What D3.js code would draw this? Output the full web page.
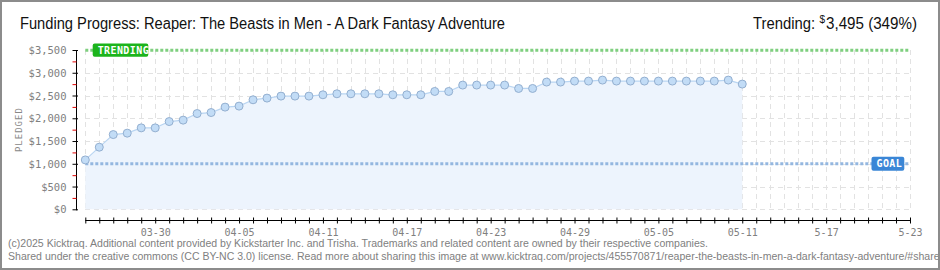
<!DOCTYPE html>
<html>
<head>
<meta charset="utf-8">
<script src="https://cdn.jsdelivr.net/npm/d3@7"></script>
<style>
  html, body { margin: 0; padding: 0; background: #fff; }
  svg { display: block; }
</style>
</head>
<body>
<svg id="chart" width="940" height="270"></svg>
<script>
// ---- data ----
const titleText = "Funding Progress: Reaper: The Beasts in Men - A Dark Fantasy Adventure";
const firstDay = "2025-03-25";
const lastDay = "2025-05-23";
// cumulative pledged (USD), one value per day from 03-25
const pledged = [
  1085, 1365, 1642, 1673, 1789, 1789, 1928, 1959, 2104, 2126,
  2245, 2267, 2406, 2443, 2487, 2487, 2487, 2516, 2538, 2538,
  2538, 2538, 2516, 2516, 2516, 2589, 2589, 2729, 2729, 2729,
  2729, 2655, 2655, 2795, 2795, 2817, 2817, 2839, 2817, 2817,
  2817, 2817, 2817, 2817, 2817, 2817, 2839, 2751
];
const goal = 1000;
const trending = 3495;
const trendingPct = 349;
const yTicks = [0, 500, 1000, 1500, 2000, 2500, 3000, 3500];
const xTickDates = ["2025-03-30", "2025-04-05", "2025-04-11", "2025-04-17", "2025-04-23",
                    "2025-04-29", "2025-05-05", "2025-05-11", "2025-05-17", "2025-05-23"];
const xTickLabels = ["03-30", "04-05", "04-11", "04-17", "04-23", "04-29", "05-05", "05-11", "5-17", "5-23"];
const footerLines = [
  "(c)2025 Kicktraq. Additional content provided by Kickstarter Inc. and Trisha. Trademarks and related content are owned by their respective companies.",
  "Shared under the creative commons (CC BY-NC 3.0) license. Read more about sharing this image at www.kicktraq.com/projects/455570871/reaper-the-beasts-in-men-a-dark-fantasy-adventure/#share"
];

// ---- setup ----
const parse = d3.utcParse("%Y-%m-%d");
const svg = d3.select("#chart");
const d0 = parse(firstDay), d1 = parse(lastDay);
const days = d3.utcDay.range(d0, d3.utcDay.offset(d1, 1));
const series = pledged.map((v, i) => ({ date: days[i], value: v }));

const x = d3.scaleUtc().domain([d0, d1]).range([85.3, 910]);
const y = d3.scaleLinear().domain([0, 3500]).range([209.3, 50]);

const labelFont = "'DejaVu Sans Mono', monospace";
const titleFont = "'Liberation Sans Narrow', 'Liberation Sans', sans-serif";

// frame
svg.append("rect").attr("x", 1).attr("y", 1).attr("width", 938).attr("height", 268)
  .attr("fill", "#fff").attr("stroke", "#8c8c8c").attr("stroke-width", 2);

// ---- grid ----
const grid = svg.append("g").attr("stroke", "#e2e2e2").attr("stroke-width", 1)
  .attr("stroke-dasharray", "5,4").attr("shape-rendering", "crispEdges");
grid.selectAll("line.v").data(days).join("line")
  .attr("x1", d => Math.round(x(d)) + 0.5).attr("x2", d => Math.round(x(d)) + 0.5)
  .attr("y1", y(3500)).attr("y2", y(0));
grid.selectAll("line.h").data(yTicks.slice(0, -1)).join("line")
  .attr("x1", x(d0)).attr("x2", x(d1))
  .attr("y1", d => Math.round(y(d)) + 0.5).attr("y2", d => Math.round(y(d)) + 0.5);

// ---- area + line ----
svg.append("path").datum(series)
  .attr("fill", "#edf4fd")
  .attr("d", d3.area().x(d => x(d.date)).y0(y(0)).y1(d => y(d.value)));
svg.append("path").datum(series)
  .attr("fill", "none").attr("stroke", "#b9d5f2").attr("stroke-width", 1.2)
  .attr("d", d3.line().x(d => x(d.date)).y(d => y(d.value)));

// ---- goal & trending lines ----
svg.append("line").attr("x1", x(d0)).attr("x2", x(d1))
  .attr("y1", y(goal)).attr("y2", y(goal))
  .attr("stroke", "#94b7e0").attr("stroke-width", 3).attr("stroke-dasharray", "3,2");
svg.append("line").attr("x1", x(d0)).attr("x2", x(d1))
  .attr("y1", y(trending)).attr("y2", y(trending))
  .attr("stroke", "#7fcf7f").attr("stroke-width", 3).attr("stroke-dasharray", "3,2");

// ---- points ----
svg.append("g").selectAll("circle").data(series).join("circle")
  .attr("cx", d => x(d.date)).attr("cy", d => y(d.value)).attr("r", 4)
  .attr("fill", "#c2dcf6").attr("stroke", "#93afd0").attr("stroke-width", 1);

// ---- y axis ----
const yAxis = d3.axisLeft(y).tickValues(yTicks).tickFormat(d3.format("$,")).tickSize(5).tickPadding(5);
const gy = svg.append("g").attr("transform", "translate(76.5,0)").call(yAxis);
gy.select(".domain").attr("d", `M0,${y(3500)}V${y(0) + 1}`).attr("stroke", "#000");
gy.selectAll(".tick line").attr("stroke", "#000").attr("x2", 1.5).attr("x1", -4);
gy.selectAll(".tick text").attr("font-family", labelFont).attr("font-size", 10.5)
  .attr("fill", "#808080").attr("dy", "0.35em");
// red half-step ticks
const yMinor = d3.axisLeft(y).tickValues(yTicks.slice(0, -1).map(v => v + 250)).tickFormat("").tickSize(4);
const gym = svg.append("g").attr("transform", "translate(76.5,0)").call(yMinor);
gym.select(".domain").remove();
gym.selectAll(".tick line").attr("stroke", "#e00000");

svg.append("text").attr("transform", `translate(22,${(y(0) + y(3500)) / 2}) rotate(-90)`)
  .attr("text-anchor", "middle").attr("font-family", labelFont).attr("font-size", 9)
  .attr("letter-spacing", 1).attr("fill", "#888").text("PLEDGED");

// ---- x axis ----
const xAxis = d3.axisBottom(x).ticks(d3.utcDay.every(1)).tickFormat("").tickSizeInner(3).tickSizeOuter(0);
const gx = svg.append("g").attr("transform", "translate(0,220.5)").call(xAxis);
gx.select(".domain").attr("stroke", "#000").attr("d", `M${x(d0)},0H${x(d1)}`);
gx.selectAll(".tick line").attr("stroke", "#000").attr("y1", -3).attr("y2", 3);
const xLab = d3.axisBottom(x).tickValues(xTickDates.map(parse))
  .tickFormat((d, i) => xTickLabels[i]).tickSize(0).tickPadding(8);
const gxl = svg.append("g").attr("transform", "translate(0,220.5)").call(xLab);
gxl.select(".domain").remove();
gxl.selectAll(".tick text").attr("font-family", labelFont).attr("font-size", 10)
  .attr("fill", "#808080");

// ---- badges ----
function badge(cx0, cy0, w, h, fill, label) {
  svg.append("rect").attr("x", cx0).attr("y", cy0).attr("width", w).attr("height", h)
    .attr("rx", 2).attr("fill", fill);
  svg.append("text").attr("x", cx0 + 5).attr("y", cy0 + h / 2).attr("dy", "0.36em")
    .attr("font-family", labelFont).attr("font-size", 10).attr("font-weight", "bold")
    .attr("fill", "#fff").attr("letter-spacing", 0.4).text(label);
}
badge(92.7, 43.4, 55.6, 13.4, "#1cb41c", "TRENDING");
badge(871.5, 156.8, 32.8, 14, "#3a86d6", "GOAL");

// ---- title ----
svg.append("text").attr("x", 20).attr("y", 29).attr("font-family", titleFont)
  .attr("font-size", 16).attr("fill", "#111").attr("textLength", 485)
  .attr("lengthAdjust", "spacingAndGlyphs").text(titleText);

// trending summary, right-aligned: "Trending:  $3,495 (349%)"
svg.append("text").attr("x", 826).attr("y", 29)
  .attr("font-family", titleFont).attr("font-size", 16).attr("fill", "#111")
  .attr("textLength", 91).attr("lengthAdjust", "spacingAndGlyphs")
  .text(d3.format(",")(trending) + " (" + trendingPct + "%)");
svg.append("text").attr("x", 825).attr("y", 23).attr("text-anchor", "end")
  .attr("font-family", titleFont).attr("font-size", 10).attr("fill", "#111").text("$");
svg.append("text").attr("x", 753).attr("y", 29)
  .attr("font-family", titleFont).attr("font-size", 16).attr("fill", "#111")
  .attr("textLength", 62).attr("lengthAdjust", "spacingAndGlyphs").text("Trending:");

// ---- footer ----
const f1 = svg.append("text").attr("x", 8).attr("y", 246.5).attr("font-family", titleFont)
  .attr("font-size", 10.5).attr("fill", "#808080").text(footerLines[0]);
const nat1 = f1.node().getComputedTextLength();
const k = 700 / nat1;
f1.attr("textLength", 700).attr("lengthAdjust", "spacingAndGlyphs");
const f2 = svg.append("text").attr("x", 8).attr("y", 259.5).attr("font-family", titleFont)
  .attr("font-size", 10.5).attr("fill", "#808080").text(footerLines[1]);
const nat2 = f2.node().getComputedTextLength();
f2.attr("textLength", nat2 * k).attr("lengthAdjust", "spacingAndGlyphs");

// outer frame drawn last so overflowing footer text stays inside
svg.append("rect").attr("x", 1).attr("y", 1).attr("width", 938).attr("height", 268)
  .attr("fill", "none").attr("stroke", "#8c8c8c").attr("stroke-width", 2);
</script>
</body>
</html>
